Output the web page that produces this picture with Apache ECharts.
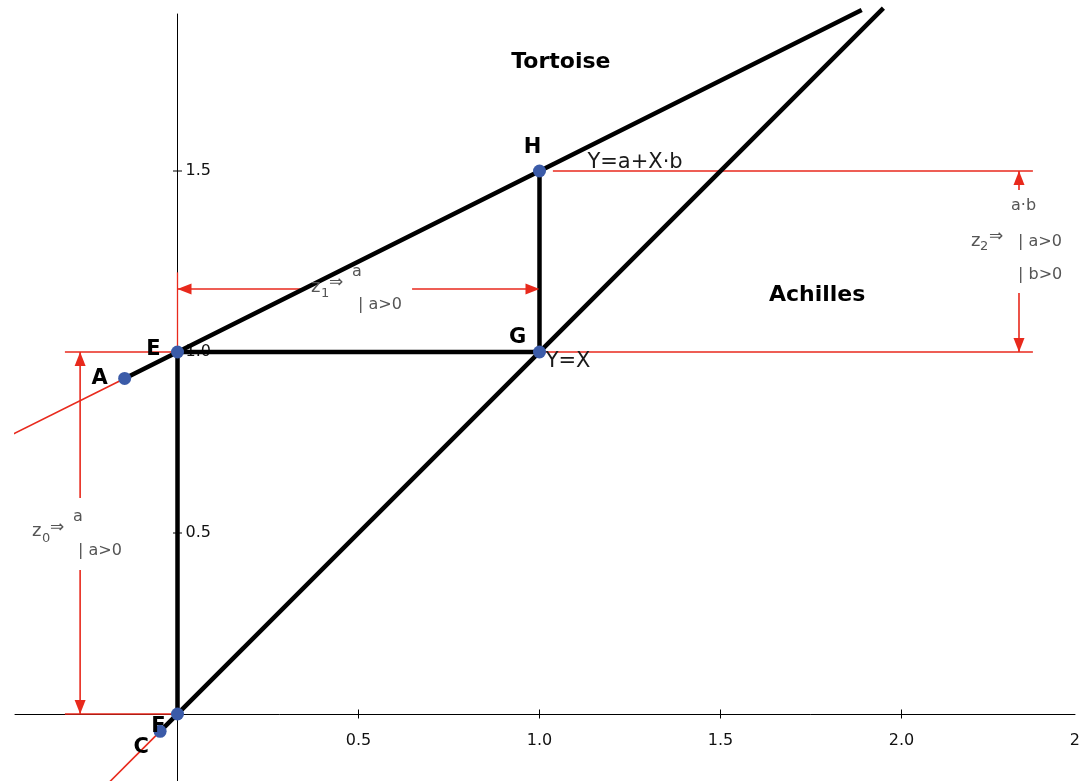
<!DOCTYPE html>
<html>
<head>
<meta charset="utf-8">
<title>Achilles and the Tortoise</title>
<script src="https://cdn.jsdelivr.net/npm/echarts@6/dist/echarts.min.js"></script>
<style>
  html, body { margin: 0; padding: 0; background: #fff; }
  #chart { width: 1081px; height: 781px; }
</style>
</head>
<body>
<div id="chart"></div>
<script>
// model: Y = a + X*b (tortoise), Y = X (achilles), a = 1, b = 0.5
const a = 1
const b = 0.5

// named points
const pointNames = ['A', 'E', 'F', 'G', 'H', 'C']
const pointX = [-0.146, 0, 0, 1, 1, -0.048]
const pointY = [0.927, 1, 0, 1, 1.5, -0.048]

// black lines
const tortoiseLine = [[-0.146, 0.927], [1.89, 1.945]]
const achillesLine = [[-0.048, -0.048], [1.95, 1.95]]
const stepLines = [
    [[0, 1], [1, 1]],    // E -> G
    [[1, 1], [1, 1.5]],  // G -> H
    [[0, 1], [0, 0]]     // E -> F
]

// red lines
const redTails = [
    [[-0.463, 0.769], [-0.146, 0.927]],
    [[-0.2, -0.2], [-0.048, -0.048]]
]
const guideLines = [
    [[-0.311, 1], [2.363, 1]],
    [[1.037, 1.5], [2.363, 1.5]],
    [[-0.311, 0], [0, 0]],
    [[0, 1], [0, 1.22]]
]
// dimension arrows (shaft pieces, gap left for the text)
const dimLines = [
    [[-0.269, 1], [-0.269, 0.597]],
    [[-0.269, 0.398], [-0.269, 0]],
    [[0, 1.174], [0.352, 1.174]],
    [[0.648, 1.174], [1, 1.174]],
    [[2.3246, 1.5], [2.3246, 1.4475]],
    [[2.3246, 1.163], [2.3246, 1]]
]
// arrow heads: [x, y, direction]
const arrowHeads = [
    [-0.269, 1, 'up'], [-0.269, 0, 'down'],
    [0, 1.174, 'left'], [1, 1.174, 'right'],
    [2.3246, 1.5, 'up'], [2.3246, 1, 'down']
]

// axis ticks
const xTicks = [0.5, 1, 1.5, 2, 2.5]
const yTicks = [0.5, 1, 1.5]

// region / equation labels
const textNames = ['Tortoise', 'Achilles', 'Y=a+X·b', 'Y=X']
const textX = [1.059, 1.767, 1.264, 1.079]
const textY = [1.801, 1.157, 1.522, 0.975]

// ---------- styles ----------
const RED = '#e8291c'
const BLUE = '#3b5ba8'
const GRAY = '#555'
const FONT = '"DejaVu Sans", sans-serif'

const labelOffsets = {
    A: [-25, 0], E: [-24, -2], F: [-19, 13], G: [-22, -14], H: [-7, -23], C: [-19, 16]
}
const arrowStyle = {
    up: { rot: 0, off: [0, 7] },
    down: { rot: 180, off: [0, -7] },
    left: { rot: 90, off: [7, 0] },
    right: { rot: -90, off: [-7, 0] }
}

function segment (pts, color, width, z) {
    return {
        type: 'line',
        data: pts,
        showSymbol: false,
        symbol: 'none',
        clip: false,
        silent: true,
        animation: false,
        z: z,
        lineStyle: { color: color, width: width }
    }
}

// text placed at a data point (symbol hidden)
function textSeries (data, label, z) {
    return {
        type: 'scatter',
        clip: false,
        silent: true,
        animation: false,
        z: z || 6,
        symbolSize: 0,
        itemStyle: { opacity: 1, color: 'transparent' },
        data: data,
        label: Object.assign({
            show: true,
            position: [0, 0],
            align: 'center',
            verticalAlign: 'middle',
            formatter: '{b}',
            color: '#000',
            fontFamily: FONT,
            textBorderWidth: 0
        }, label)
    }
}

const series = []
// red first, black over it
redTails.forEach(p => series.push(segment(p, RED, 1.6, 2)))
guideLines.forEach(p => series.push(segment(p, RED, 1.3, 2)))
dimLines.forEach(p => series.push(segment(p, RED, 1.6, 2)))
series.push(segment(tortoiseLine, '#000', 4.5, 3))
series.push(segment(achillesLine, '#000', 4.5, 3))
stepLines.forEach(p => series.push(segment(p, '#000', 4.5, 3)))

// arrow heads
series.push({
    type: 'scatter',
    clip: false,
    silent: true,
    animation: false,
    z: 4,
    symbol: 'triangle',
    symbolSize: [11, 14],
    itemStyle: { color: RED, opacity: 1 },
    data: arrowHeads.map(h => ({
        value: [h[0], h[1]],
        symbolRotate: arrowStyle[h[2]].rot,
        symbolOffset: arrowStyle[h[2]].off
    }))
})

// tick marks crossing both axes
series.push({
    type: 'scatter',
    clip: false,
    silent: true,
    animation: false,
    z: 1,
    symbol: 'rect',
    symbolSize: [1, 9],
    itemStyle: { color: '#000', opacity: 1 },
    data: xTicks.map(v => [v, 0])
})
series.push({
    type: 'scatter',
    clip: false,
    silent: true,
    animation: false,
    z: 1,
    symbol: 'rect',
    symbolSize: [9, 1],
    itemStyle: { color: '#000', opacity: 1 },
    data: yTicks.map(v => [0, v])
})

// tick labels
series.push(textSeries(
    xTicks.map(v => ({ name: v.toFixed(1), value: [v, 0] })),
    { offset: [0, 27], fontSize: 16, color: '#111' }, 1))
series.push(textSeries(
    yTicks.map(v => ({ name: v.toFixed(1), value: [0, v] })),
    { offset: [8, 0], align: 'left', fontSize: 16, color: '#111' }, 1))

// points
series.push({
    type: 'scatter',
    clip: false,
    silent: true,
    animation: false,
    z: 5,
    symbolSize: 13,
    itemStyle: { color: BLUE, opacity: 1 },
    data: pointNames.map((n, i) => ({ name: n, value: [pointX[i], pointY[i]] })),
    label: { show: false }
})
series.push(textSeries(
    pointNames.map((n, i) => ({
        name: n,
        value: [pointX[i], pointY[i]],
        label: { offset: labelOffsets[n] }
    })),
    { fontSize: 21, fontWeight: 'bold' }, 7))

// region and equation texts
series.push(textSeries(
    textNames.map((n, i) => ({
        name: n,
        value: [textX[i], textY[i]],
        label: i < 2
            ? { fontSize: 22, fontWeight: 'bold' }
            : { fontSize: 21, fontWeight: 'normal', color: '#1a1a1a' }
    })),
    {}, 7))

// gray annotation texts z0, z1, z2
function txt (s, x, y, size) {
    return {
        type: 'text',
        x: x,
        y: y,
        z: 10,
        silent: true,
        style: {
            text: s,
            fill: GRAY,
            font: (size || 16) + 'px ' + FONT,
            align: 'left',
            verticalAlign: 'middle'
        }
    }
}
const graphic = [
    txt('z', 32, 531, 18), txt('0', 42, 539, 13), txt('⇒', 50, 528, 17),
    txt('a', 73, 517), txt('| a>0', 78, 551),
    txt('z', 311, 287, 18), txt('1', 321, 294, 13), txt('⇒', 329, 283, 17),
    txt('a', 352, 272), txt('| a>0', 358, 305),
    txt('a·b', 1011, 206), txt('z', 971, 241, 18), txt('2', 980, 247, 13),
    txt('⇒', 989, 237, 17), txt('| a>0', 1018, 242), txt('| b>0', 1018, 275)
]

const myChart = echarts.init(document.getElementById('chart'))
myChart.setOption({
    animation: false,
    backgroundColor: '#fff',
    grid: { left: 15, right: 6, top: 14, bottom: 0, containLabel: false, outerBoundsMode: 'none' },
    xAxis: {
        type: 'value',
        min: -0.4489,
        max: 2.4793,
        axisLine: { onZero: true, lineStyle: { color: '#000', width: 1 } },
        axisTick: { show: false },
        splitLine: { show: false },
        axisLabel: { show: false }
    },
    yAxis: {
        type: 'value',
        min: -0.1851,
        max: 1.9337,
        axisLine: { onZero: true, lineStyle: { color: '#000', width: 1 } },
        axisTick: { show: false },
        splitLine: { show: false },
        axisLabel: { show: false }
    },
    series: series,
    graphic: graphic
})
window.addEventListener('resize', function () {
    myChart.resize()
})
</script>
</body>
</html>
